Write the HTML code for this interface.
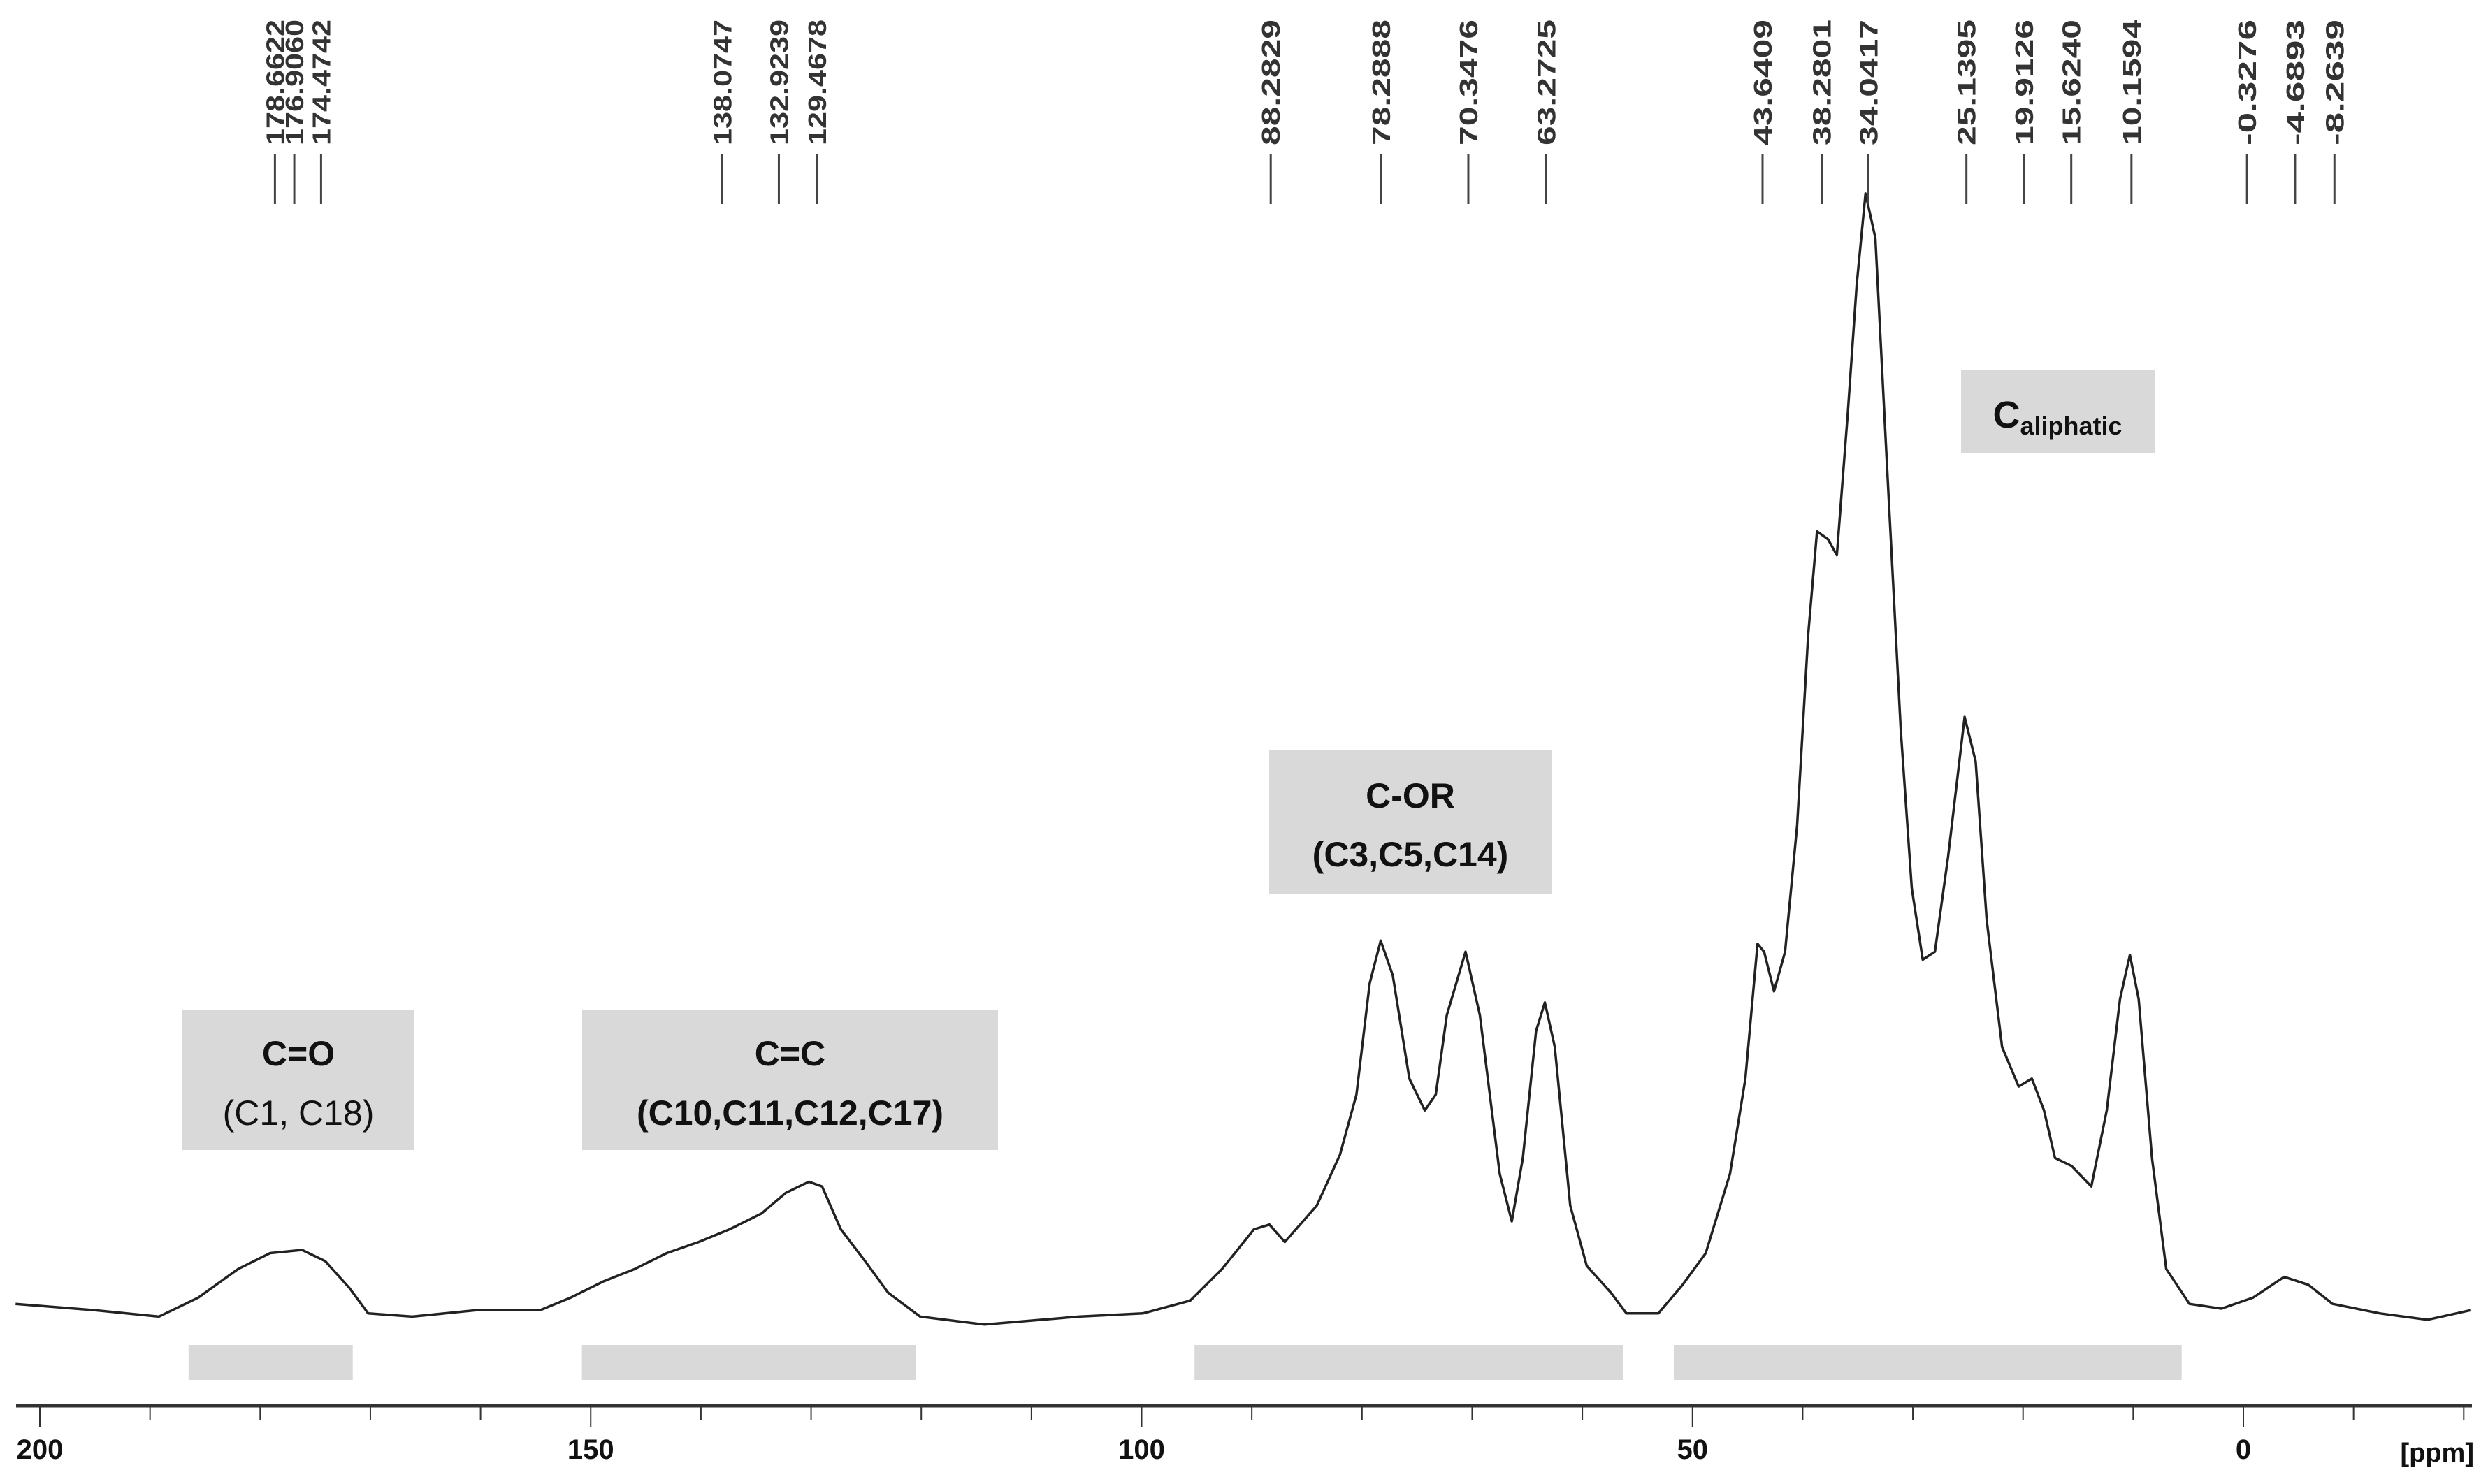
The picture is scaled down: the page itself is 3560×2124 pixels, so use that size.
<!DOCTYPE html>
<html><head><meta charset="utf-8">
<style>
html,body{margin:0;padding:0;background:#fff;}
svg{display:block;}
</style></head>
<body>
<svg id="chart" width="3560" height="2124" viewBox="0 0 3560 2124" xmlns="http://www.w3.org/2000/svg"></svg>
<script>
const specPpm=[202.2,195.0,189.2,185.6,182.0,179.1,176.2,174.1,171.9,170.2,166.2,160.4,154.6,151.8,148.9,146.0,143.1,140.2,137.4,134.5,132.3,130.2,129.0,127.3,125.1,123.0,120.1,114.3,105.7,99.9,95.6,92.7,89.8,88.4,87.0,84.1,82.0,80.5,79.3,78.3,77.2,75.7,74.3,73.3,72.3,70.6,69.3,67.5,66.4,65.4,64.2,63.4,62.5,61.1,59.6,57.4,56.0,53.1,50.9,48.8,46.6,45.2,44.1,43.5,42.6,41.6,40.5,39.5,38.7,37.7,36.9,35.9,35.1,34.3,33.4,32.3,31.1,30.1,29.1,28.0,26.8,25.3,24.3,23.3,21.9,20.4,19.2,18.1,17.1,15.6,13.8,12.4,11.2,10.3,9.5,8.3,7.0,4.9,2.0,-0.9,-3.7,-5.9,-8.1,-12.4,-16.7,-20.6];
const specInt=[3,-1,-5,7,25,35,37,30,13,-3,-5,-1,-1,7,17,25,35,42,50,60,73,80,77,50,30,10,-5,-10,-5,-3,5,25,50,53,42,65,97,135,205,232,210,145,125,135,185,225,185,85,55,95,175,193,165,65,27,10,-3,-3,15,35,85,145,230,225,200,225,305,425,490,485,475,565,645,703,675,525,365,265,220,225,285,373,345,245,165,140,145,125,95,90,77,125,195,223,195,95,25,3,0,7,20,15,3,-3,-7,-1];
const peakLabels=["178.6622","176.9060","174.4742","138.0747","132.9239","129.4678","88.2829","78.2888","70.3476","63.2725","43.6409","38.2801","34.0417","25.1395","19.9126","15.6240","10.1594","-0.3276","-4.6893","-8.2639"];
const axisTicks=[200,150,100,50,0];
const regionStart=[186.5,150.8,95.2,51.7];
const regionEnd=[171.6,120.5,56.3,5.6];

const svg=document.getElementById('chart');
const NS='http://www.w3.org/2000/svg';
const xOf=p=>57+(200-p)*15.765;
const yOf=v=>1873-v*2.2704;
function mk(tag,attrs,parent){const e=document.createElementNS(NS,tag);for(const k in attrs)e.setAttribute(k,attrs[k]);(parent||svg).appendChild(e);return e;}

function box(name,x,y,w,h,lines){
  const g=mk('g',{});
  
  
  mk('rect',{x:x,y:y,width:w,height:h,fill:'#d9d9d9'},g);
  lines.forEach(l=>{const t=mk('text',{x:x+w/2,y:l.y,'text-anchor':'middle','font-family':'Liberation Sans, sans-serif','font-size':50,'font-weight':l.b?'bold':'normal',fill:'#111'},g);t.textContent=l.t;});
}
box('carbonyl-label',261,1446,332,200,[{t:'C=O',y:1525,b:true},{t:'(C1, C18)',y:1610,b:false}]);
box('alkene-label',833,1446,595,200,[{t:'C=C',y:1525,b:true},{t:'(C10,C11,C12,C17)',y:1610,b:true}]);
box('c-or-label',1816,1074,404,205,[{t:'C-OR',y:1156,b:true},{t:'(C3,C5,C14)',y:1240,b:true}]);
{const g=mk('g',{});
mk('rect',{x:2806,y:529,width:277,height:120,fill:'#d9d9d9'},g);
const t=mk('text',{x:2944,y:612,'text-anchor':'middle','font-family':'Liberation Sans, sans-serif','font-weight':'bold',fill:'#111'},g);
const a=mk('tspan',{'font-size':54},t);a.textContent='C';const b=mk('tspan',{'font-size':36,dy:10},t);b.textContent='aliphatic';}

regionStart.forEach((s,i)=>{const r=mk('rect',{x:xOf(s),y:1925,width:xOf(regionEnd[i])-xOf(s),height:50,fill:'#d9d9d9'});

});

let d='';specPpm.forEach((p,i)=>{d+=(i?'L':'M')+xOf(p).toFixed(1)+','+yOf(specInt[i]).toFixed(1);});
const path=mk('path',{d:d,fill:'none',stroke:'#222','stroke-width':3.5,'stroke-linejoin':'round'});



peakLabels.forEach(s=>{const x=xOf(parseFloat(s));
const ln=mk('line',{x1:x,y1:220,x2:x,y2:292,stroke:'#444','stroke-width':3});


const t=mk('text',{x:0,y:0,transform:'translate('+(x+13)+',208) rotate(-90)','font-family':'Liberation Sans, sans-serif','font-size':36,'font-weight':'bold','textLength':180,'lengthAdjust':'spacingAndGlyphs',fill:'#333'});
t.textContent=s;

});

const ax=mk('line',{x1:23,y1:2012,x2:3537,y2:2012,stroke:'#333','stroke-width':5});


for(let p=200;p>=-20;p-=10){const major=p%50===0;
const tk=mk('line',{x1:xOf(p),y1:2012,x2:xOf(p),y2:major?2043:2032,stroke:'#333','stroke-width':2});

}
axisTicks.forEach(p=>{const t=mk('text',{x:xOf(p),y:2088,'text-anchor':'middle','font-family':'Liberation Sans, sans-serif','font-size':40,'font-weight':'bold',fill:'#111'});
t.textContent=String(p);

});
const u=mk('text',{x:3540,y:2092,'text-anchor':'end','font-family':'Liberation Sans, sans-serif','font-size':38,'font-weight':'bold',fill:'#111'});
u.textContent='[ppm]';


</script>
</body></html>
